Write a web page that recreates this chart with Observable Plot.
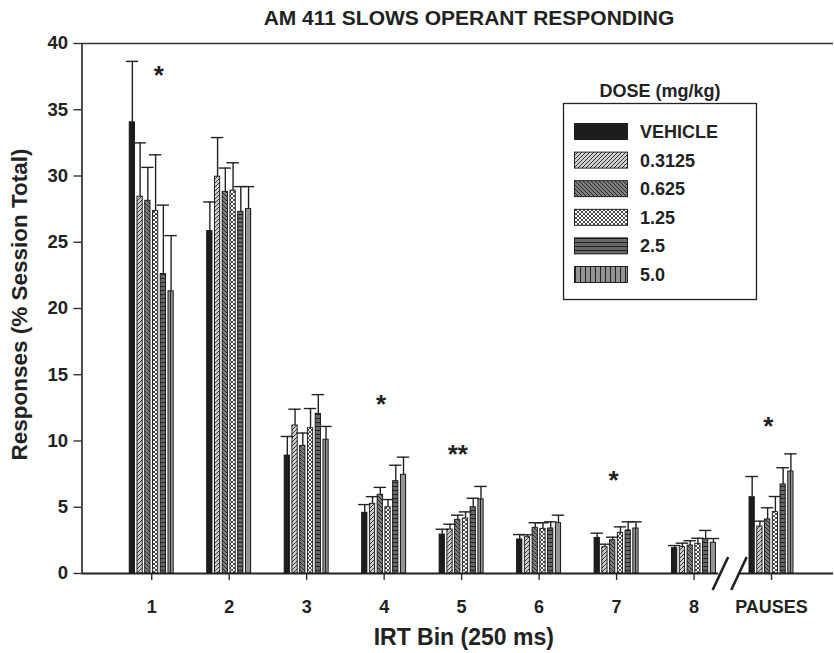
<!DOCTYPE html>
<html><head><meta charset="utf-8">
<script src="https://cdn.jsdelivr.net/npm/d3@7"></script>
<script src="https://cdn.jsdelivr.net/npm/@observablehq/plot@0.6"></script>
<style>
body{margin:0;background:#fff;font-family:"Liberation Sans",Arial,sans-serif;}
#title{width:834px;box-sizing:border-box;height:34px;line-height:36px;font-weight:bold;font-size:21px;color:#222;text-align:center;padding-left:104px;white-space:nowrap;}
#chart svg{display:block;}
</style></head><body>
<div id="title">AM 411 SLOWS OPERANT RESPONDING</div>
<div id="chart"></div>
<script>
// ---- data ----
const bins = ["1","2","3","4","5","6","7","8","PAUSES"];
const doses = ["VEHICLE","0.3125","0.625","1.25","2.5","5.0"];
const vehicleMean = [34.05,25.84,8.9,4.58,2.94,2.57,2.69,1.91,5.76];
const vehicleSem  = [4.6,2.2,1.44,0.62,0.4,0.37,0.35,0.2,1.56];
const d03125Mean  = [28.44,29.95,11.17,5.26,3.32,2.74,1.99,1.99,3.55];
const d03125Sem   = [4.06,2.95,1.23,0.54,0.4,0.18,0.22,0.3,0.4];
const d0625Mean   = [28.13,28.8,9.63,5.94,4.05,3.45,2.51,2.11,4.08];
const d0625Sem    = [2.52,1.8,0.97,0.56,0.35,0.38,0.23,0.36,0.88];
const d125Mean    = [27.35,28.9,10.97,5.0,4.15,3.37,3.07,2.24,4.63];
const d125Sem     = [4.25,2.1,1.48,0.58,0.5,0.46,0.45,0.42,1.18];
const d25Mean     = [22.6,27.3,12.05,6.97,5.0,3.4,3.25,2.59,6.72];
const d25Sem      = [5.2,1.9,1.45,1.2,0.68,0.5,0.65,0.66,1.26];
const d50Mean     = [21.3,27.5,10.1,7.45,5.6,3.8,3.4,2.32,7.7];
const d50Sem      = [4.2,1.7,1.0,1.33,0.97,0.6,0.5,0.32,1.33];
const yTicks = [0,5,10,15,20,25,30,35,40];
// significance markers
const starBin   = ["1","4","5","7","PAUSES"];
const starLabel = ["*","*","**","*","*"];
const starLevel = [38.1,13.3,9.5,7.55,11.6];
const starShift = [0.09,-0.04,-0.05,-0.04,-0.04];
const breakAt = 8.46; // axis break between 8 and PAUSES

// ---- table ----
const means = [vehicleMean,d03125Mean,d0625Mean,d125Mean,d25Mean,d50Mean];
const sems  = [vehicleSem,d03125Sem,d0625Sem,d125Sem,d25Sem,d50Sem];
const step = 0.1, half = 0.034, cap = 0.08;
const rows = bins.flatMap((b,i) => doses.map((d,j) => ({
  bin:b, pos:i+1, dose:d, j, mean:means[j][i], sem:sems[j][i],
  xc:(i+1)+(j-2.5)*step
})));
const stars = starBin.map((b,k)=>({pos:bins.indexOf(b)+1+starShift[k], label:starLabel[k], v:starLevel[k]}));
const fills = ["#1d1d1d","url(#pat1)","url(#pat2)","url(#pat3)","url(#pat4)","url(#pat5)"];
const xDom = [0.1, 9.8];

const barMarks = doses.map((d,j) => Plot.rectY(rows.filter(r=>r.j===j), {
  x1: r=>r.xc-half, x2: r=>r.xc+half, y1: 0, y2: "mean",
  fill: fills[j], stroke: "#111", strokeWidth: 0.9
}));

const plot = Plot.plot({
  width: 834, height: 619,
  marginTop: 9, marginBottom: 80, marginLeft: 81.5, marginRight: 1,
  x: {domain: xDom, axis: null},
  y: {domain: [0, 40], axis: null},
  style: {fontFamily: "'Liberation Sans', Arial, sans-serif", fontWeight: "bold", color: "#222", background: "white", overflow: "visible"},
  marks: [
    ...barMarks,
    Plot.ruleX(rows, {x: "xc", y1: "mean", y2: r=>r.mean+r.sem, stroke: "#222", strokeWidth: 1.4}),
    Plot.ruleY(rows, {y: r=>r.mean+r.sem, x1: r=>r.xc-cap, x2: r=>r.xc+cap, stroke: "#222", strokeWidth: 1.4}),
    Plot.axisY({ticks: yTicks, tickSize: 8, tickPadding: 6, fontSize: 18.5, label: null, strokeWidth: 1.3}),
    Plot.axisX({ticks: d3.range(1, bins.length+1), tickFormat: d => bins[d-1], tickSize: 7, tickPadding: 20, fontSize: 18, label: null, strokeWidth: 1.3}),
    Plot.ruleX([xDom[0]], {y1: 0, y2: 40, stroke: "#222", strokeWidth: 1.6}),
    Plot.ruleY([40], {stroke: "#333", strokeWidth: 1.6}),
    Plot.ruleY([{a:xDom[0], b:breakAt-0.14},{a:breakAt+0.14, b:xDom[1]}], {y: 0, x1: "a", x2: "b", stroke: "#222", strokeWidth: 2.2}),
    Plot.link([breakAt-0.12, breakAt+0.12], {x1: d=>d-0.1, x2: d=>d+0.1, y1: -1.25, y2: 1.25, stroke: "#222", strokeWidth: 2.6}),
    Plot.text(stars, {x: "pos", y: "v", text: "label", fontSize: 26, dy: 7, fill: "#222"}),
    Plot.text(["Responses (% Session Total)"], {frameAnchor: "left", textAnchor: "middle", lineAnchor: "middle", dx: -62, dy: -4, rotate: -90, fontSize: 22.5, fill: "#222"}),
    Plot.text(["IRT Bin (250 ms)"], {frameAnchor: "bottom", lineAnchor: "middle", dx: 6, dy: 64, fontSize: 23, fill: "#222"})
  ]
});

document.getElementById("chart").appendChild(plot);

// patterns
const svg = d3.select(plot);
svg.insert("defs", ":first-child").html(`
<pattern id="pat1" patternUnits="userSpaceOnUse" width="4" height="4">
  <rect width="4" height="4" fill="#cfcfcf"/>
  <path d="M-1,1 l2,-2 M0,4 l4,-4 M3,5 l2,-2" stroke="#222" stroke-width="0.9"/>
</pattern>
<pattern id="pat2" patternUnits="userSpaceOnUse" width="4" height="4">
  <rect width="4" height="4" fill="#7f7f7f"/>
  <path d="M-1,3 l2,2 M0,0 l4,4 M3,-1 l2,2" stroke="#1a1a1a" stroke-width="0.9"/>
</pattern>
<pattern id="pat3" patternUnits="userSpaceOnUse" width="4" height="4">
  <rect width="4" height="4" fill="#ffffff"/>
  <path d="M0,0 L4,4 M4,0 L0,4" stroke="#222" stroke-width="0.8"/>
</pattern>
<pattern id="pat4" patternUnits="userSpaceOnUse" width="4" height="4">
  <rect width="4" height="4" fill="#686868"/>
  <path d="M0,0.5 H4" stroke="#222" stroke-width="1"/>
</pattern>
<pattern id="pat5" patternUnits="userSpaceOnUse" width="5" height="4">
  <rect width="5" height="4" fill="#939393"/>
  <path d="M0.5,0 V4" stroke="#222" stroke-width="1"/>
</pattern>`);

// legend (inside the plot's svg)
const lg = svg.append("g").attr("font-family", "'Liberation Sans', Arial, sans-serif").attr("font-weight", "bold").attr("fill", "#222").attr("text-anchor", "start");
lg.append("text").attr("x", 660).attr("y", 63).attr("text-anchor", "middle").attr("font-size", 18).text("DOSE (mg/kg)");
lg.append("rect").attr("x", 563.5).attr("y", 69.5).attr("width", 193).attr("height", 196).attr("fill", "white").attr("stroke", "#222").attr("stroke-width", 1.3);
doses.forEach((d, j) => {
  const cy = 97.5 + j * 28.6;
  lg.append("rect").attr("x", 574.5).attr("y", cy - 8).attr("width", 53).attr("height", 16).attr("fill", fills[j]).attr("stroke", "#111").attr("stroke-width", 0.9);
  lg.append("text").attr("x", 640).attr("y", cy + 6.5).attr("font-size", 18).attr("text-anchor", "start").text(d);
});
</script>
</body></html>
